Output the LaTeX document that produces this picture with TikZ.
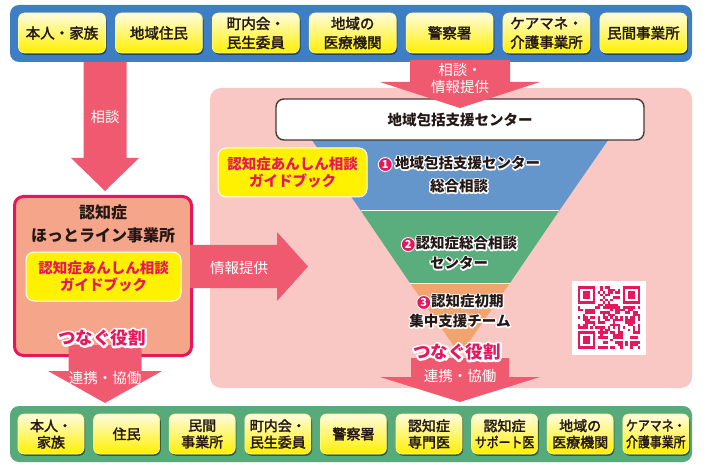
\documentclass[tikz,border=0pt]{standalone}
\usepackage{fontspec}
\setmainfont{Noto Sans CJK JP}
\usepackage{graphicx}
\usetikzlibrary{calc, positioning, shadows}

\definecolor{cBand}{RGB}{62,126,196}
\definecolor{cBandG}{RGB}{88,170,122}
\definecolor{cBoxTop}{RGB}{255,252,222}
\definecolor{cBoxBot}{RGB}{255,240,0}
\definecolor{cArrow}{RGB}{240,90,112}
\definecolor{cCrimson}{RGB}{230,23,92}
\definecolor{cSalmon}{RGB}{245,165,138}
\definecolor{cPanel}{RGB}{249,200,196}
\definecolor{cYellow}{RGB}{255,241,0}
\definecolor{cFunBlue}{RGB}{100,150,204}
\definecolor{cFunGreen}{RGB}{90,174,125}
\definecolor{cFunOrange}{RGB}{242,164,110}
\definecolor{cInk}{RGB}{35,24,21}

\newcommand{\fs}[2]{\fontsize{#1}{#2}\selectfont}
\newcommand{\nrw}[1]{\scalebox{0.85}[1]{#1}}
% white outline round a text: stroked copy first, filled text on top
\newcommand{\halo}[2][2.6]{%
  \rlap{\special{pdf:literal direct 1 Tr #1 w 1 j 1 1 1 RG}#2\special{pdf:literal direct 0 Tr}}#2}
\newcommand{\numc}[1]{\tikz[baseline=(nc.base)]\node[circle, fill=cCrimson,
  draw=white, line width=0.9pt, text=white, inner sep=0pt, minimum size=14pt,
  font=\fs{11}{11}\bfseries] (nc) {#1};}

% block arrows: start, tip, shaft half width, head half width, head length
\newcommand{\arrowdown}[5]{%
  \fill[bigarrow] ($(#1)+(-#3,0)$) -- ($(#2)+(-#3,-#5)$) -- ($(#2)+(-#4,-#5)$)
    -- (#2) -- ($(#2)+(#4,-#5)$) -- ($(#2)+(#3,-#5)$) -- ($(#1)+(#3,0)$) -- cycle;}
\newcommand{\arrowright}[5]{%
  \fill[bigarrow] ($(#1)+(0,-#3)$) -- ($(#2)+(-#5,-#3)$) -- ($(#2)+(-#5,-#4)$)
    -- (#2) -- ($(#2)+(-#5,#4)$) -- ($(#2)+(-#5,#3)$) -- ($(#1)+(0,#3)$) -- cycle;}

\begin{document}
\begin{tikzpicture}[
  x=1pt, y=-1pt,
  band/.style={rounded corners=9pt, inner sep=0pt},
  tbox/.style={rounded corners=6pt, top color=cBoxTop, bottom color=cBoxBot,
               draw=white!60!cBoxBot, line width=0.6pt, align=center, text=cInk,
               inner sep=0pt,
               execute at begin node={\special{pdf:literal direct 2 Tr 0.3 w}},
               execute at end node={\special{pdf:literal direct 0 Tr}},
               drop shadow={shadow xshift=1.2pt, shadow yshift=-1.8pt,
                            fill=black, opacity=0.45}},
  ttop/.style={tbox, minimum width=87pt, minimum height=40pt, font=\fs{14.5}{19}},
  tbot/.style={tbox, minimum width=66pt, minimum height=40pt, font=\fs{14}{16.5}},
  guide/.style={rounded corners=8pt, fill=cYellow, draw=white, line width=1pt,
                align=center, text=cCrimson, font=\fs{14.5}{17}\bfseries,
                inner sep=0pt},
  bigarrow/.style={fill=cArrow},
  onarrow/.style={text=white, align=center, font=\fs{14.5}{17}},
  funtext/.style={text=cInk, align=center, font=\fs{14.5}{20}\bfseries},
  role/.style={text=cCrimson, font=\fs{17.5}{20}\bfseries}
]
\useasboundingbox (0,0) rectangle (706,470);

%% ── TOP BAND ────────────────────────────────────────────────────────────────

\node[band, fill=cBand, minimum width=682pt, minimum height=57pt] (topband) at (351,33.5) {};
\node[ttop] (t1) at (62,33) {本人・家族};
\node[ttop, right=9.3pt of t1] (t2) {地域住民};
\node[ttop, right=9.3pt of t2] (t3) {町内会・\\民生委員};
\node[ttop, right=9.3pt of t3] (t4) {地域の\\医療機関};
\node[ttop, right=9.3pt of t4] (t5) {警察署};
\node[ttop, right=9.3pt of t5] (t6) {ケアマネ・\\介護事業所};
\node[ttop, right=9.3pt of t6] (t7) {民間事業所};

%% ── BOTTOM BAND ─────────────────────────────────────────────────────────────

\node[band, fill=cBandG, minimum width=682pt, minimum height=56pt] (botband) at (351,434) {};
\node[tbot] (b1) at (51,434) {本人・\\家族};
\node[tbot, right=9pt of b1] (b2) {住民};
\node[tbot, right=9pt of b2] (b3) {民間\\事業所};
\node[tbot, right=9pt of b3] (b4) {町内会・\\民生委員};
\node[tbot, right=9pt of b4] (b5) {警察署};
\node[tbot, right=9pt of b5] (b6) {認知症\\専門医};
\node[tbot, right=9pt of b6] (b7) {認知症\\\nrw{サポート医}};
\node[tbot, right=9pt of b7] (b8) {地域の\\医療機関};
\node[tbot, right=9pt of b8] (b9) {\nrw{ケアマネ・}\\\nrw{介護事業所}};

%% ── RIGHT PANEL + FUNNEL ────────────────────────────────────────────────────

\node[fill=cPanel, rounded corners=11pt, minimum width=482pt, minimum height=300pt] (panel) at (451,238) {};

\coordinate (apex) at (460,355);
\fill[cFunBlue]   (298,120) -- (622,120) -- (559,211) -- (361,211) -- cycle;
\fill[cFunGreen]  (361,211) -- (559,211) -- (510,283) -- (410,283) -- cycle;
\fill[cFunOrange] (410,283) -- (510,283) -- (apex) -- cycle;
\draw[white, line width=1pt] (361,211) -- (559,211) (410,283) -- (510,283);

\node[draw=cInk!85, line width=1.4pt, fill=white, rounded corners=8pt,
      minimum width=368pt, minimum height=41pt, text=cInk,
      font=\fs{14.5}{17}\bfseries] (center) at (460,119.5) {地域包括支援センター};

\node[guide, minimum width=149pt, minimum height=49pt] (pguide) at (292.5,172.5)
  {認知症あんしん相談\\ガイドブック};

\node[funtext, font=\fs{14.5}{23}\bfseries] (f1) at (459,174.5)
  {\numc{1}\,\halo{地域包括支援センター}\\\halo{総合相談}};
\node[funtext] (f2) at (459,253) {\numc{2}\halo{認知症総合相談}\\\halo{センター}};
\node[funtext] (f3) at (460,311) {\numc{3}\halo{認知症初期}\\\halo{集中支援チーム}};

%% ── QR CODE ─────────────────────────────────────────────────────────────────

\node[fill=white, minimum size=74pt, inner sep=0pt] (qr) at (609,317.5) {};
\begin{scope}[shift={(qr.north west)}, xshift=5.75pt, yshift=-5.75pt]
  \pgfmathsetseed{4321}
  \foreach \i in {0,...,24} {
    \foreach \j in {0,...,24} {
      \pgfmathtruncatemacro{\qbit}{round(rnd)}
      \ifnum\qbit=1 \fill[cCrimson] (\i*2.5,\j*2.5) rectangle ++(2.5,2.5); \fi
    }
  }
  \foreach \fx/\fy in {0/0, 18/0, 0/18} {
    \fill[white]    (\fx*2.5-2.5,\fy*2.5-2.5) rectangle ++(22.5,22.5);
    \fill[cCrimson] (\fx*2.5,\fy*2.5) rectangle ++(17.5,17.5);
    \fill[white]    (\fx*2.5+2.5,\fy*2.5+2.5) rectangle ++(12.5,12.5);
    \fill[cCrimson] (\fx*2.5+5,\fy*2.5+5) rectangle ++(7.5,7.5);
  }
\end{scope}

%% ── HOTLINE BOX (left) ──────────────────────────────────────────────────────

\node[fill=cSalmon, draw=cCrimson, line width=3pt, rounded corners=9pt,
      minimum width=177pt, minimum height=159pt] (hotline) at (103,276) {};
\node[text=cInk, align=center, font=\fs{16}{23}\bfseries] (hottitle) at (103,223.5)
  {認知症\\ほっとライン事業所};
\node[guide, minimum width=155pt, minimum height=49pt] (hguide) at (103.5,276.5)
  {認知症あんしん相談\\ガイドブック};

%% ── BLOCK ARROWS ────────────────────────────────────────────────────────────

\coordinate (a1s) at (105,62);    \coordinate (a1e) at (105,191);
\coordinate (a2s) at (460,60);    \coordinate (a2e) at (460,108);
\coordinate (a3s) at (190,266.5); \coordinate (a3e) at (308,266.5);
\coordinate (a4s) at (105,345);   \coordinate (a4e) at (105,403);
\coordinate (a5s) at (460,358);   \coordinate (a5e) at (460,402);

\arrowdown{a1s}{a1e}{21.5}{34}{33}
\arrowdown{a2s}{a2e}{50}{80}{26}
\arrowright{a3s}{a3e}{21.5}{34.5}{31}
\arrowdown{a4s}{a4e}{36.5}{57}{32}
\arrowdown{a5s}{a5e}{49}{80}{25}

\node[onarrow] (a1lab) at (105,117) {相談};
\node[onarrow] (a2lab) at (460,78.5) {相談・\\情報提供};
\node[onarrow] (a3lab) at (239,268) {情報提供};
\node[onarrow] (a4lab) at (105,378) {連携・協働};
\node[onarrow] (a5lab) at (460,376) {連携・協働};

%% ── ROLE LABELS ─────────────────────────────────────────────────────────────

\node[role] (role1) at (102,338) {\halo[4.2]{つなぐ役割}};
\node[role] (role2) at (457,352) {\halo[4.2]{つなぐ役割}};

\end{tikzpicture}
\end{document}
